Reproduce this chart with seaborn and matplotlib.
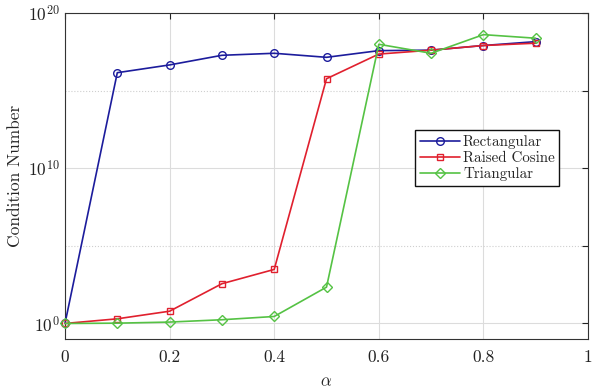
import matplotlib
matplotlib.use("Agg")
import matplotlib.pyplot as plt
import matplotlib.ticker as mticker
import numpy as np
import pandas as pd
import seaborn as sns

alpha = [0.0, 0.1, 0.2, 0.3, 0.4, 0.5, 0.6, 0.7, 0.8, 0.9]
# log10 of condition number
rect_log = [0.0, 16.15, 16.65, 17.27, 17.4, 17.14, 17.57, 17.6, 17.9, 18.15]
rc_log = [0.0, 0.3, 0.79, 2.56, 3.48, 15.76, 17.35, 17.6, 17.9, 18.05]
tri_log = [0.0, 0.02, 0.09, 0.24, 0.45, 2.34, 17.98, 17.4, 18.6, 18.37]

names = ["Rectangular", "Raised Cosine", "Triangular"]
colors = ["#1c1c9c", "#e0202e", "#55c244"]
markers = ["o", "s", "D"]
msizes = [5.5, 4.5, 4.8]

sns.set_theme(style="white")
plt.rcParams["font.family"] = ["cmr10", "DejaVu Serif"]
plt.rcParams["mathtext.fontset"] = "cm"
plt.rcParams["axes.unicode_minus"] = False
plt.rcParams["axes.formatter.use_mathtext"] = True

df = pd.DataFrame({
    "alpha": alpha * 3,
    "cond": list(10.0 ** np.array(rect_log)) + list(10.0 ** np.array(rc_log)) + list(10.0 ** np.array(tri_log)),
    "window": sum([[n] * len(alpha) for n in names], []),
})

fig = plt.figure(figsize=(5.93, 3.91), dpi=100)
ax = fig.add_axes([0.1096, 0.133, 0.8820, 0.834])

for n, c, m, ms in zip(names, colors, markers, msizes):
    sub = df[df["window"] == n]
    sns.lineplot(data=sub, x="alpha", y="cond", ax=ax, color=c, marker=m,
                 markersize=ms, markerfacecolor="none", markeredgecolor=c,
                 markeredgewidth=1.0, linewidth=1.2, label=n, zorder=3,
                 clip_on=False)

ax.set_yscale("log")
ax.set_xlim(0, 1)
ax.set_ylim(1e-1, 1e20)
ax.set_xticks([0, 0.2, 0.4, 0.6, 0.8, 1.0])
ax.set_xticklabels(["0", "0.2", "0.4", "0.6", "0.8", "1"])
ax.yaxis.set_major_locator(mticker.FixedLocator([1e0, 1e10, 1e20]))
ax.yaxis.set_minor_locator(mticker.FixedLocator([1e5, 1e15]))
ax.yaxis.set_minor_formatter(mticker.NullFormatter())
ax.set_yticklabels([r"$10^{0}$", r"$10^{10}$", r"$10^{20}$"])

ax.tick_params(axis="both", which="both", direction="in", top=True, right=True,
               length=4, width=0.8, colors="#222222", labelsize=12.5)
ax.tick_params(axis="x", pad=8)
ax.grid(True, which="major", color="#dcdcdc", linewidth=0.8, linestyle="-")
ax.grid(True, which="minor", axis="y", color="#cfcfcf", linewidth=0.8, linestyle=":")
ax.set_axisbelow(True)
for s in ax.spines.values():
    s.set_color("#333333")
    s.set_linewidth(0.8)

ax.set_xlabel(r"$\alpha$", fontsize=12, labelpad=6)
ax.set_ylabel("Condition Number", fontsize=12.5, labelpad=4)

leg = ax.legend(loc="center right", bbox_to_anchor=(0.945, 0.555), fontsize=10.8,
                frameon=True, fancybox=False, edgecolor="#111111", framealpha=1,
                borderpad=0.3, labelspacing=0.15, handlelength=2.7, handletextpad=0.2,
                borderaxespad=0)
leg.get_frame().set_linewidth(1.0)

fig.savefig("out.png", dpi=100)
